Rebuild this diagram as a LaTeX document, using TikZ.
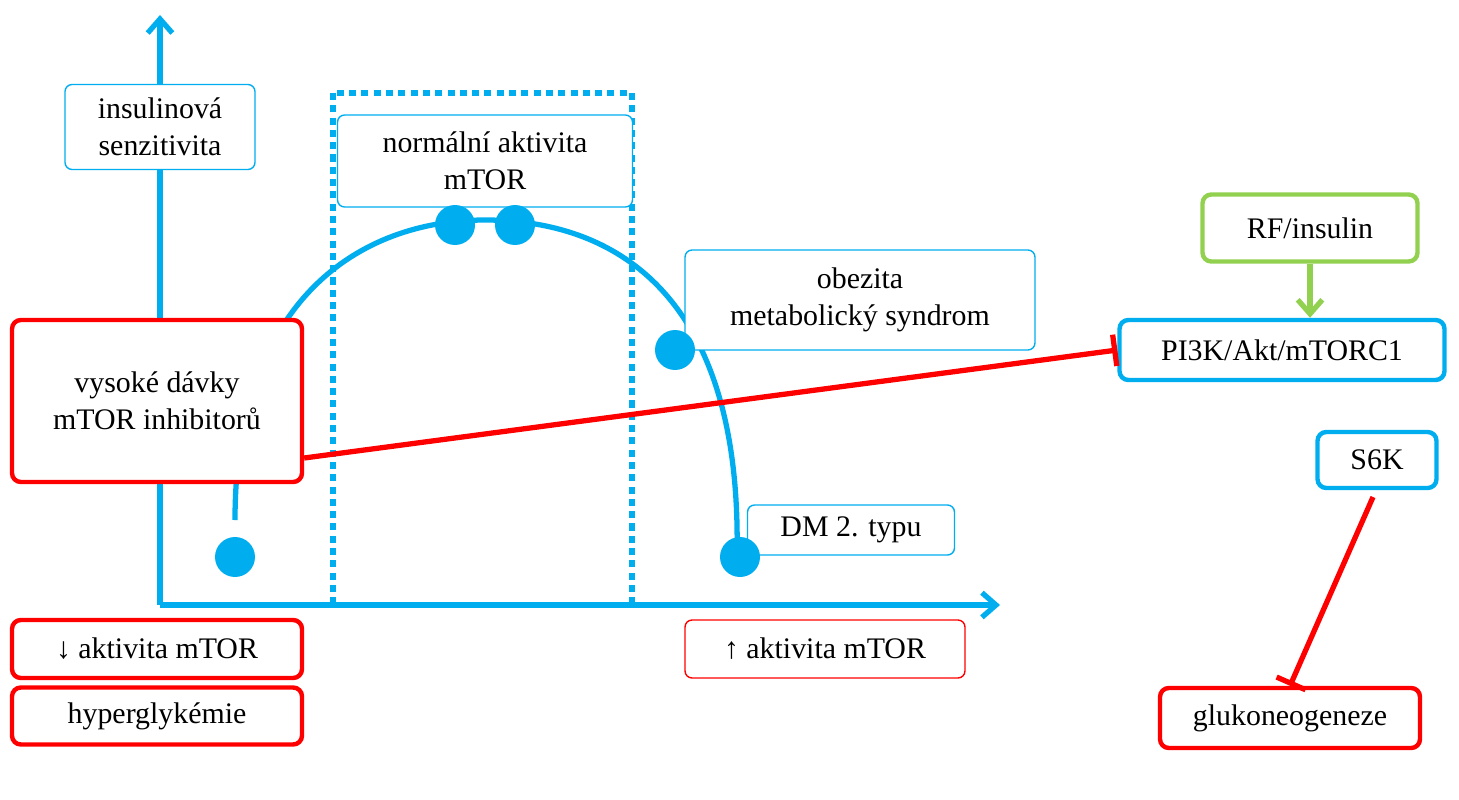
\documentclass[tikz,border=0pt]{standalone}
\usepackage{fontspec}
\setmainfont{Liberation Serif}
\usetikzlibrary{positioning,arrows.meta}
\definecolor{cblue}{RGB}{0,174,239}
\definecolor{cred}{RGB}{255,0,0}
\definecolor{cgreen}{RGB}{146,208,80}

\begin{document}
\begin{tikzpicture}[x=0.02cm,y=-0.02cm,
  % common options for the boxes:
  bluebox/.style = {draw=cblue, fill=white, rounded corners=4pt, align=center, line width=0.8pt,
              inner sep=0, font=\fontsize{17}{21}\selectfont},
  redbox/.style = {draw=cred, fill=white, rounded corners=5pt, align=center, line width=2.5pt,
              inner sep=0, font=\fontsize{17}{21}\selectfont},
  % common options for the dots:
  dot/.style = {circle, fill=cblue, minimum size=0.8cm, inner sep=0},
  axis/.style = {cblue, line width=3pt, -{Straight Barb[length=8pt,width=14pt]}}
	]
  \useasboundingbox (0,0) rectangle (1459,800);

  \coordinate (O) at (160,605);
  \coordinate (Y) at (160,15);
  \coordinate (X) at (1000,605);
  \draw[axis] (O) -- (Y);
  \draw[axis] (O) -- (X);
  \draw[cblue, line width=3pt, dash pattern=on 4pt off 3pt] (333,93) rectangle (632,605);

  \draw[cblue, line width=3pt] (235,520) .. controls (235,300) and (360,220) .. (485,220)
    .. controls (620,220) and (742,300) .. (737,555);

  \node[bluebox, minimum width=3.8cm, minimum height=1.7cm] (sens) at (160,127) {insulinová\\senzitivita};
  \node[bluebox, minimum width=5.9cm, minimum height=1.84cm] (norm) at (485,161) {normální aktivita\\mTOR};
  \node[bluebox, minimum width=7cm, minimum height=2cm] (obez) at (860,300) {obezita\\metabolický syndrom};
  \node[bluebox, minimum width=4.14cm, minimum height=1cm] (dm) at (851,530) {DM 2. typu};

  \node[dot] (d1) at (235,557) {};
  \node[dot] (d2) at (455,225) {};
  \node[dot] (d3) at (515,225) {};
  \node[dot] (d4) at (675,350) {};
  \node[dot] (d5) at (740,557) {};

  \node[redbox, minimum width=5.8cm, minimum height=3.24cm] (inhib) at (157,401) {vysoké dávky\\mTOR inhibitorů};
  \node[redbox, minimum width=5.8cm, minimum height=1.16cm] (down) at (157,649) {↓ aktivita mTOR};
  \node[redbox, minimum width=5.8cm, minimum height=1.14cm] (hyper) at (157,716) {hyperglykémie};
  \node[bluebox, draw=cred, minimum width=5.6cm, minimum height=1.16cm] (up) at (825,649) {↑ aktivita mTOR};

  \node[redbox, draw=cgreen, minimum width=4.3cm, minimum height=1.34cm] (rf) at (1310,228) {RF/insulin};
  \node[redbox, draw=cblue, minimum width=6.5cm, minimum height=1.2cm] (pi3k) at (1282,350) {PI3K/Akt/mTORC1};
  \node[redbox, draw=cblue, minimum width=2.38cm, minimum height=1.12cm] (s6k) at (1377,460) {S6K};
  \node[redbox, minimum width=5.2cm, minimum height=1.2cm] (gluk) at (1290,718) {glukoneogeneze};

  \coordinate (s6kout) at (1373,497);
  \draw[cgreen, line width=3pt, -{Straight Barb[length=8pt,width=14pt]}] (rf.south) -- (rf.south |- pi3k.north);
  \draw[cred, line width=3pt, -{Bar[width=18pt]}] (inhib.east |- 0,458) -- (pi3k.west);
  \draw[cred, line width=3pt, -{Bar[width=18pt]}] (s6kout) -- (gluk.north);
\end{tikzpicture}
\end{document}
